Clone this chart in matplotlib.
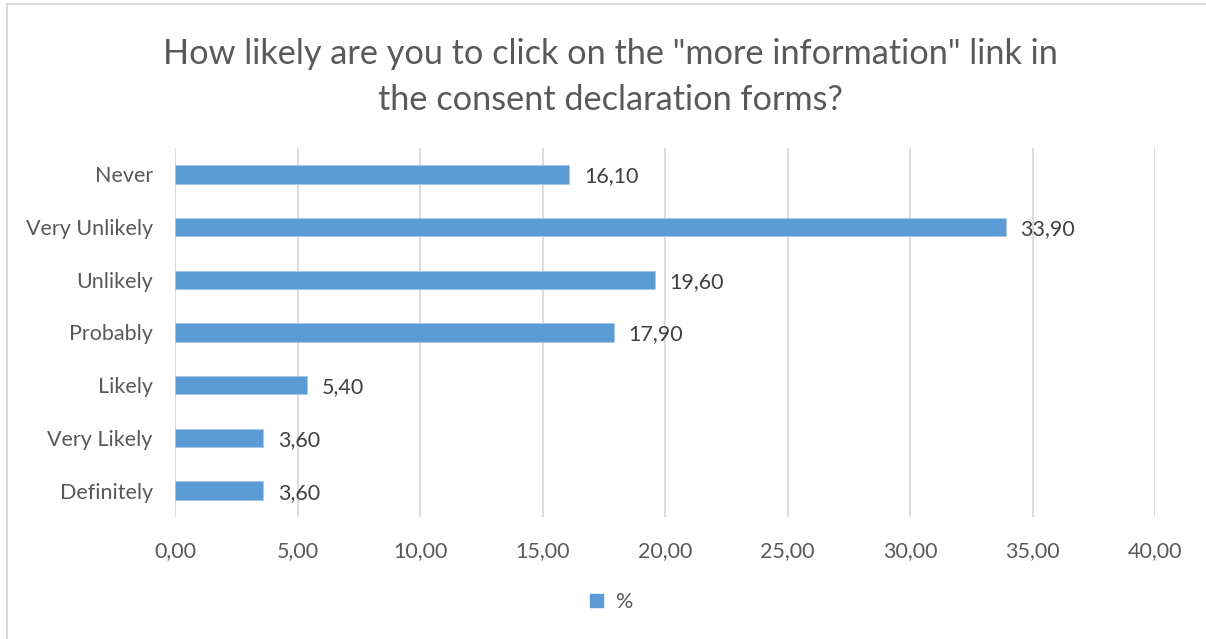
import matplotlib
matplotlib.use("Agg")
import matplotlib.pyplot as plt
from matplotlib.lines import Line2D
from matplotlib.patches import Patch

# Survey answers, top to bottom as shown on the chart
categories = ["Never", "Very Unlikely", "Unlikely", "Probably", "Likely", "Very Likely", "Definitely"]
percent = [16.10, 33.90, 19.60, 17.90, 5.40, 3.60, 3.60]
x_ticks = [0, 5, 10, 15, 20, 25, 30, 35, 40]
title = 'How likely are you to click on the "more information" link in\nthe consent declaration forms?'
series_name = "%"

BAR = "#5B9BD5"
TEXT = "#595959"
GRID = "#D9D9D9"

plt.rcParams["font.family"] = ["Lato", "DejaVu Sans"]

W, H, DPI = 1206, 639, 100
fig = plt.figure(figsize=(W / DPI, H / DPI), dpi=DPI)
fig.patch.set_facecolor("white")

# plot area in pixel coordinates
left, right, top, bottom = 175, 1155, 148, 517
ax = fig.add_axes([left / W, 1 - bottom / H, (right - left) / W, (bottom - top) / H])

y = list(range(len(categories)))
ax.barh(y, percent, height=0.35, color=BAR, edgecolor="#A9C8E8", linewidth=0.6, zorder=3)

ax.set_xlim(0, 40)
ax.set_ylim(len(categories) - 0.5, -0.5)
ax.set_xticks(x_ticks)
ax.set_xticklabels([f"{v:.2f}".replace(".", ",") for v in x_ticks])
ax.set_yticks(y)
ax.set_yticklabels(categories)
ax.tick_params(axis="both", length=0, labelsize=15.5, colors=TEXT)
ax.tick_params(axis="x", pad=17)
ax.tick_params(axis="y", pad=16)
ax.xaxis.grid(True, color=GRID, linewidth=1.3, zorder=0)
ax.yaxis.grid(False)
for s in ax.spines.values():
    s.set_visible(False)

for yi, v in zip(y, percent):
    ax.annotate(f"{v:.2f}".replace(".", ","), (v, yi), xytext=(10.5, -1.5),
                textcoords="offset points", va="center", ha="left",
                fontsize=15.5, color="#404040")

fig.text(610 / W, 1 - 77 / H, title, ha="center", va="center",
         fontsize=24.7, color=TEXT, linespacing=1.52)

# legend below the plot
fig.legend(handles=[Patch(facecolor=BAR, edgecolor=BAR)], labels=[series_name],
           loc="center", bbox_to_anchor=(612 / W, 1 - 602 / H), frameon=False,
           fontsize=15.5, handlelength=0.6, handleheight=0.6, handletextpad=0.6,
           labelcolor=TEXT)

# chart-area border (left and top edges)
fig.add_artist(Line2D([7 / W, 7 / W], [0, 1 - 4 / H], transform=fig.transFigure,
                      color="#D9D9D9", linewidth=1.5))
fig.add_artist(Line2D([7 / W, 1], [1 - 4 / H, 1 - 4 / H], transform=fig.transFigure,
                      color="#D9D9D9", linewidth=1.5))

fig.savefig("out.png", dpi=DPI, facecolor="white")
